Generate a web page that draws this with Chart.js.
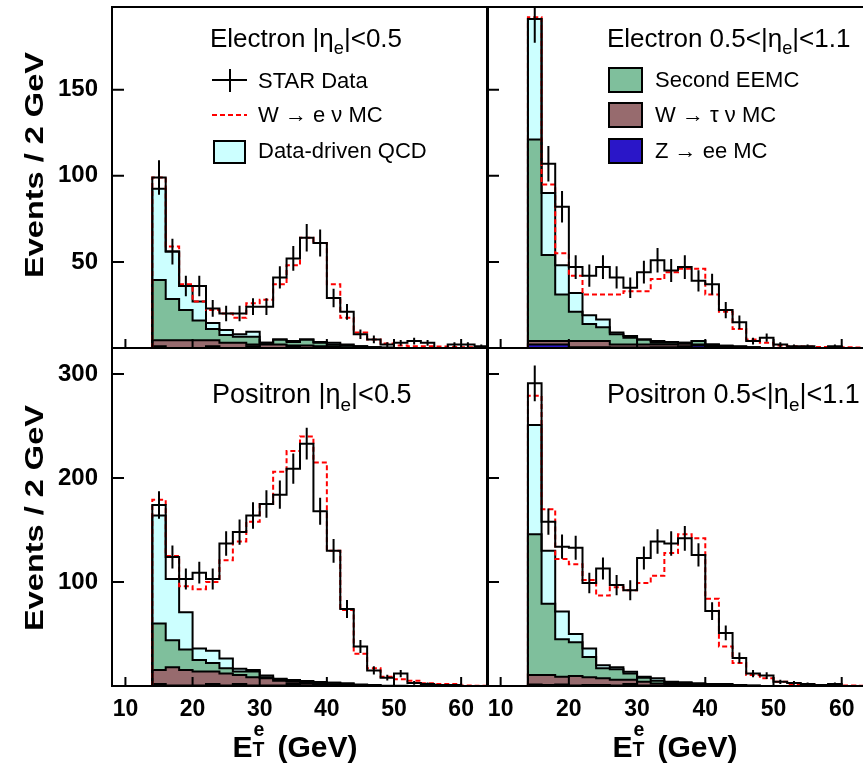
<!DOCTYPE html>
<html>
<head>
<meta charset="utf-8">
<script src="https://cdn.jsdelivr.net/npm/chart.js@4.4.0/dist/chart.umd.min.js"></script>
<style>
  html, body { margin: 0; padding: 0; background: #fff; overflow: hidden; }
  #fig { position: relative; width: 863px; height: 767px; overflow: hidden;
         font-family: "Liberation Sans", Arial, Helvetica, sans-serif; color: #000; }
  canvas { position: absolute; }
  .txt { position: absolute; white-space: nowrap; }
  .title { font-size: 26px; line-height: 27px; }
  .title.big { font-size: 27px; }
  .leg { font-size: 22px; line-height: 21px; }
  .box { position: absolute; box-sizing: border-box; border: 2px solid #000; }
  .ytitle { font-size: 25px; font-weight: bold; transform: translate(-50%, -50%) rotate(-90deg) scaleX(1.3); }
  .xtitle { font-size: 30px; font-weight: bold; transform: translateX(-50%); }
  sub { font-size: 0.7em; vertical-align: -0.4em; line-height: 0; }
  .ss { position: relative; display: inline-block; width: 0.55em; height: 1em; }
  .ss .up { position: absolute; left: 1px; top: -0.45em; font-size: 0.65em; }
  .ss .dn { position: absolute; left: 0; top: 0.55em; font-size: 0.65em; }
</style>
</head>
<body>
<div id="fig">
  <canvas id="c-elow" width="492" height="352" style="left:0;top:0"></canvas>
  <canvas id="c-ehigh" width="390" height="352" style="left:483px;top:0"></canvas>
  <canvas id="c-plow" width="492" height="423" style="left:0;top:344px"></canvas>
  <canvas id="c-phigh" width="390" height="423" style="left:483px;top:344px"></canvas>

  <div class="txt title" style="left:210px;top:25px">Electron |η<sub>e</sub>|&lt;0.5</div>
  <div class="txt title" style="left:607px;top:25px">Electron 0.5&lt;|η<sub>e</sub>|&lt;1.1</div>
  <div class="txt title big" style="left:212px;top:381px">Positron |η<sub>e</sub>|&lt;0.5</div>
  <div class="txt title big" style="left:607px;top:381px">Positron 0.5&lt;|η<sub>e</sub>|&lt;1.1</div>

  <!-- legend, left -->
  <div style="position:absolute;left:212px;top:79px;width:35px;height:2px;background:#000"></div>
  <div style="position:absolute;left:229px;top:69px;width:2px;height:23px;background:#000"></div>
  <div class="txt leg" style="left:258px;top:70px">STAR Data</div>
  <div style="position:absolute;left:212px;top:114px;width:35px;height:2px;background:repeating-linear-gradient(90deg,#f00 0 5px,transparent 5px 8px)"></div>
  <div class="txt leg" style="left:258px;top:104px">W → e ν MC</div>
  <div class="box" style="left:213px;top:140px;width:33px;height:24px;background:#ccffff"></div>
  <div class="txt leg" style="left:258px;top:140px">Data-driven QCD</div>

  <!-- legend, right -->
  <div class="box" style="left:608px;top:67px;width:35px;height:26px;background:#7fbf9c"></div>
  <div class="txt leg" style="left:655px;top:69px">Second EEMC</div>
  <div class="box" style="left:608px;top:102px;width:35px;height:26px;background:#976b6e"></div>
  <div class="txt leg" style="left:655px;top:104px">W → τ ν MC</div>
  <div class="box" style="left:608px;top:138px;width:35px;height:26px;background:#2a16c8"></div>
  <div class="txt leg" style="left:655px;top:140px">Z → ee MC</div>

  <div class="txt ytitle" style="left:34px;top:165px">Events / 2 GeV</div>
  <div class="txt ytitle" style="left:34px;top:518px">Events / 2 GeV</div>
  <div class="txt xtitle" style="left:295px;top:727px">E<span class="ss"><span class="up">e</span><span class="dn">T</span></span> (GeV)</div>
  <div class="txt xtitle" style="left:675px;top:727px">E<span class="ss"><span class="up">e</span><span class="dn">T</span></span> (GeV)</div>
</div>

<script>
// bins of 2 GeV, low edges
const BIN_LOW = [14, 16, 18, 20, 22, 24, 26, 28, 30, 32, 34, 36, 38, 40, 42, 44, 46, 48, 50, 52, 54, 56, 58, 60, 62];
const BIN_WIDTH = 2;
const X_TICKS = [10, 20, 30, 40, 50, 60];
const Y_TICKS_E = [50, 100, 150];
const Y_TICKS_P = [100, 200, 300];

// Electron |eta|<0.5
const eLowData = [99, 56, 36, 36, 23, 20, 20, 24, 24, 41, 52, 64, 61, 29, 21, 8, 5, 2, 3, 4, 3, 0, 2, 2, 1];
const eLowErr  = [10, 7.5, 6, 6, 4.8, 4.5, 4.5, 4.9, 4.9, 6.4, 7.2, 8, 7.8, 5.4, 4.6, 2.8, 2.2, 1.4, 1.7, 2, 1.7, 0, 1.4, 1.4, 1];
const eLowWenu = [99, 59, 37, 27, 22, 20, 17.5, 26, 28, 37, 48, 64, 61, 37, 17.5, 9, 5, 2.6, 1.5, 1, 1, 0.8, 0.6, 0.5, 0.3];
const eLowZee  = [1, 0, 0, 0, 1, 0, 0, 1, 0, 0, 1, 0, 0, 0, 0, 0, 0, 0, 0, 0, 0, 0, 0, 0, 0];
const eLowWtau = [3.5, 4.5, 4.5, 4.5, 3.5, 3, 3, 1, 2, 2, 0.5, 1.5, 1, 1, 0.5, 0.5, 0.3, 0.2, 0, 0, 0, 0, 0, 0, 0];
const eLowEemc = [35, 24, 17.5, 11.5, 6.5, 4.5, 3.5, 4.5, 1, 3, 2, 3.5, 2, 1, 1, 0.5, 0.2, 0, 0, 0, 0, 0, 0, 0, 0];
const eLowQcd  = [53, 27.5, 14, 11, 3.5, 3, 1.5, 3, 0, 0, 0.5, 0, 0.5, 1, 0.5, 0, 0, 0, 0, 0, 0, 0, 0, 0, 0];

// Electron 0.5<|eta|<1.1
const eHighData = [191, 107, 82, 47, 42, 47, 41, 35, 44, 51, 45, 47, 39, 37, 22, 15, 4, 6, 2, 1, 1, 0, 1, 0, 0];
const eHighErr  = [13.8, 10.3, 9.1, 6.9, 6.5, 6.9, 6.4, 5.9, 6.6, 7.1, 6.7, 6.9, 6.2, 6.1, 4.7, 3.9, 2, 2.4, 1.4, 1, 1, 0, 1, 0, 0];
const eHighWenu = [192, 95, 55, 42, 31, 31, 31, 33, 33, 40, 44, 46, 46, 31, 21, 11, 5, 3, 1.5, 1, 0.8, 0.6, 0.5, 0.4, 0.3];
const eHighZee  = [2, 2, 2, 0.5, 0.5, 0.5, 0.3, 0.3, 0.3, 0.5, 0.5, 1, 1.5, 1, 0.5, 0.3, 0, 0, 0, 0, 0, 0, 0, 0, 0];
const eHighWtau = [2, 2, 2, 3.5, 3.5, 3.5, 1.7, 1.7, 1.7, 1.5, 1.5, 1.5, 0.5, 0.5, 0.5, 0.2, 0.3, 0, 0, 0, 0, 0, 0, 0, 0];
const eHighEemc = [117, 50, 27, 17, 10, 8, 6, 4, 3, 1, 1, 0.5, 2, 0.5, 0.3, 0.2, 0, 0, 0, 0, 0, 0, 0, 0, 0];
const eHighQcd  = [70, 36, 17, 11, 5, 4.5, 1, 1, 0, 1, 0.5, 0, 0, 0, 0, 0.3, 0.2, 0, 0, 0, 0, 0, 0, 0, 0];

// Positron |eta|<0.5
const pLowData = [174, 124, 103, 109, 103, 137, 148, 164, 175, 184, 209, 233, 168, 130, 74, 38, 15, 8, 12, 3, 2, 1, 1, 0, 0];
const pLowErr  = [13.2, 11.1, 10.1, 10.4, 10.1, 11.7, 12.2, 12.8, 13.2, 13.6, 14.5, 15.3, 13, 11.4, 8.6, 6.2, 3.9, 2.8, 3.5, 1.7, 1.4, 1, 1, 0, 0];
const pLowWenu = [179, 125, 96, 93, 100, 121, 139, 158, 175, 206, 226, 240, 215, 130, 73, 31, 17, 9, 6.4, 5, 2.6, 2, 2, 0.5, 0.3];
const pLowZee  = [2, 0.5, 0.5, 0.5, 2, 0.5, 2, 0.5, 0.5, 0.5, 2, 0.5, 1.5, 0.5, 1, 0.3, 0, 0, 0, 0, 0, 0, 0, 0, 0];
const pLowWtau = [13.5, 17.5, 15, 13.5, 12, 11.5, 8.5, 8, 7, 4.5, 2, 2, 0.5, 1, 0, 0.2, 0.3, 0, 0, 0, 0, 0, 0, 0, 0];
const pLowEemc = [44.5, 26, 19.5, 11, 8, 5, 3.5, 5.5, 1, 1.5, 1, 1, 0.5, 1.7, 0.6, 0.5, 0.2, 0, 0, 0, 0, 0, 0, 0, 0];
const pLowQcd  = [104, 59, 36, 11, 12, 9.5, 2.5, 1.5, 1.5, 0.5, 0.8, 1.3, 1.4, 0, 1, 0.5, 0.5, 0.3, 0.2, 0, 0, 0, 0, 0, 0];

// Positron 0.5<|eta|<1.1
const pHighData = [291, 158, 134, 133, 99, 113, 97, 92, 123, 139, 137, 142, 126, 72, 51, 27, 12, 10, 4, 3, 2, 1, 2, 0, 0];
const pHighErr  = [17.1, 12.6, 11.6, 11.5, 9.9, 10.6, 9.8, 9.6, 11.1, 11.8, 11.7, 11.9, 11.2, 8.5, 7.1, 5.2, 3.5, 3.2, 2, 1.7, 1.4, 1, 1.4, 0, 0];
const pHighWenu = [279, 170, 122, 117, 102, 87, 95, 92, 99, 106, 128, 146, 142, 84, 38, 22, 10.6, 7.4, 4, 2, 1.5, 1, 0.6, 0.4, 0.2];
const pHighZee  = [1.5, 1, 1.5, 0.5, 1, 1, 0.5, 2, 0.5, 0.5, 0.5, 0.5, 0.3, 0.3, 0.2, 0, 0, 0, 0, 0, 0, 0, 0, 0, 0];
const pHighWtau = [9, 9.5, 7.5, 9, 7.5, 6.5, 5.5, 4, 3.5, 2, 1.5, 1, 0.7, 0.5, 0.3, 0.3, 0, 0, 0, 0, 0, 0, 0, 0, 0];
const pHighEemc = [135.5, 68.5, 36, 32.5, 19.5, 9.5, 10, 6, 4, 2.5, 1.5, 1.5, 1, 0.7, 0.5, 0.2, 0.3, 0, 0, 0, 0, 0, 0, 0, 0];
const pHighQcd  = [105, 51, 26.7, 8, 8, 3, 2, 1.8, 1, 2.4, 0.7, 0.5, 0.6, 0.5, 1, 0.5, 0.2, 0, 0, 0, 0, 0, 0, 0, 0];

const COL_QCD = '#ccffff';
const COL_EEMC = '#7fbf9c';
const COL_WTAU = '#976b6e';
const COL_ZEE = '#2a16c8';
const FONT = '"Liberation Sans", Arial, Helvetica, sans-serif';

// histogram outline: drop to zero at both ends
function steps(vals) {
    var last = BIN_LOW[BIN_LOW.length - 1] + BIN_WIDTH;
    var pts = [{ x: BIN_LOW[0] - 0.001, y: 0 }];
    BIN_LOW.forEach(function(x, i) { pts.push({ x: x, y: vals[i] }); });
    pts.push({ x: last, y: 0 });
    return pts;
}

function addUp(a, b) {
    return a.map(function(v, i) { return v + b[i]; });
}

function errorBars(vals, errs) {
    var pts = [];
    BIN_LOW.forEach(function(x, i) {
        if (vals[i] <= 0) return;
        var c = x + BIN_WIDTH / 2;
        pts.push({ x: c, y: vals[i] - errs[i] });
        pts.push({ x: c, y: vals[i] + errs[i] });
        pts.push({ x: c, y: null });
    });
    return pts;
}

// frame + inward tick marks
const framePlugin = {
    id: 'frame',
    afterDatasetsDraw: function(chart) {
        var ctx = chart.ctx, a = chart.chartArea, sx = chart.scales.x, sy = chart.scales.y;
        ctx.save();
        ctx.strokeStyle = '#000';
        ctx.lineWidth = 2;
        ctx.beginPath();
        X_TICKS.forEach(function(v) {
            var px = sx.getPixelForValue(v);
            ctx.moveTo(px, a.bottom); ctx.lineTo(px, a.bottom - 9);
        });
        sy.ticks.forEach(function(t) {
            var py = sy.getPixelForValue(t.value);
            ctx.moveTo(a.left, py); ctx.lineTo(a.left + 12, py);
        });
        ctx.stroke();
        ctx.strokeRect(a.left, a.top, a.right - a.left, a.bottom - a.top);
        ctx.restore();
    }
};

function stepLine(vals, color, width, fill, bg, order) {
    return {
        data: steps(vals),
        stepped: 'before',
        borderColor: color,
        borderWidth: width,
        backgroundColor: bg || 'transparent',
        fill: fill,
        pointRadius: 0,
        order: order
    };
}

function noPad(s) {
    s.paddingTop = 0; s.paddingBottom = 0; s.paddingLeft = 0; s.paddingRight = 0;
}

function makePanel(id, p) {
    var s1 = p.zee;
    var s2 = addUp(s1, p.wtau);
    var s3 = addUp(s2, p.eemc);
    var s4 = addUp(s3, p.qcd);

    var datasets = [
        stepLine(s1, '#000', 2, 'origin', COL_ZEE, 6),
        stepLine(s2, '#000', 2, '-1', COL_WTAU, 5),
        stepLine(s3, '#000', 2, '-1', COL_EEMC, 4),
        stepLine(s4, '#000', 2, '-1', COL_QCD, 3),
        Object.assign(stepLine(p.wenu, '#ff0000', 2, false, null, 2), { borderDash: [5, 3] }),
        stepLine(p.data, '#000', 2, false, null, 1),
        {
            data: errorBars(p.data, p.err),
            borderColor: '#000',
            borderWidth: 2,
            pointRadius: 0,
            fill: false,
            spanGaps: false,
            order: 0
        }
    ];

    new Chart(document.getElementById(id), {
        type: 'line',
        data: { datasets: datasets },
        options: {
            responsive: false,
            animation: false,
            events: [],
            layout: { padding: p.pad },
            plugins: {
                legend: { display: false },
                tooltip: { enabled: false },
                filler: { drawTime: 'beforeDatasetsDraw' }
            },
            scales: {
                x: {
                    type: 'linear',
                    min: 8,
                    max: 64,
                    grid: { display: false, drawTicks: false },
                    border: { display: false },
                    afterBuildTicks: function(s) { s.ticks = X_TICKS.map(function(v) { return { value: v }; }); },
                    afterFit: function(s) { s.height = p.xh; noPad(s); },
                    ticks: {
                        display: p.xLabels,
                        color: '#000',
                        padding: 10,
                        maxRotation: 0,
                        font: { family: FONT, size: 23, weight: 'bold' }
                    }
                },
                y: {
                    min: 0,
                    max: p.ymax,
                    grid: { display: false, drawTicks: false },
                    border: { display: false },
                    afterBuildTicks: function(s) { s.ticks = p.yTicks.map(function(v) { return { value: v }; }); },
                    afterFit: function(s) { s.width = p.yw; noPad(s); },
                    ticks: {
                        display: p.yLabels,
                        color: '#000',
                        padding: 14,
                        font: { family: FONT, size: 24, weight: 'bold' }
                    }
                }
            }
        },
        plugins: [framePlugin]
    });
}

makePanel('c-elow', {
    data: eLowData, err: eLowErr, wenu: eLowWenu, zee: eLowZee, wtau: eLowWtau, eemc: eLowEemc, qcd: eLowQcd,
    ymax: 198, yTicks: Y_TICKS_E, yLabels: true, xLabels: false, yw: 112, xh: 0,
    pad: { top: 7, right: 4, bottom: 4, left: 0 }
});
makePanel('c-ehigh', {
    data: eHighData, err: eHighErr, wenu: eHighWenu, zee: eHighZee, wtau: eHighWtau, eemc: eHighEemc, qcd: eHighQcd,
    ymax: 198, yTicks: Y_TICKS_E, yLabels: false, xLabels: false, yw: 0, xh: 0,
    pad: { top: 7, right: 4, bottom: 4, left: 4 }
});
makePanel('c-plow', {
    data: pLowData, err: pLowErr, wenu: pLowWenu, zee: pLowZee, wtau: pLowWtau, eemc: pLowEemc, qcd: pLowQcd,
    ymax: 325, yTicks: Y_TICKS_P, yLabels: true, xLabels: true, yw: 112, xh: 40,
    pad: { top: 4, right: 4, bottom: 41, left: 0 }
});
makePanel('c-phigh', {
    data: pHighData, err: pHighErr, wenu: pHighWenu, zee: pHighZee, wtau: pHighWtau, eemc: pHighEemc, qcd: pHighQcd,
    ymax: 325, yTicks: Y_TICKS_P, yLabels: false, xLabels: true, yw: 0, xh: 40,
    pad: { top: 4, right: 4, bottom: 41, left: 4 }
});
</script>
</body>
</html>
